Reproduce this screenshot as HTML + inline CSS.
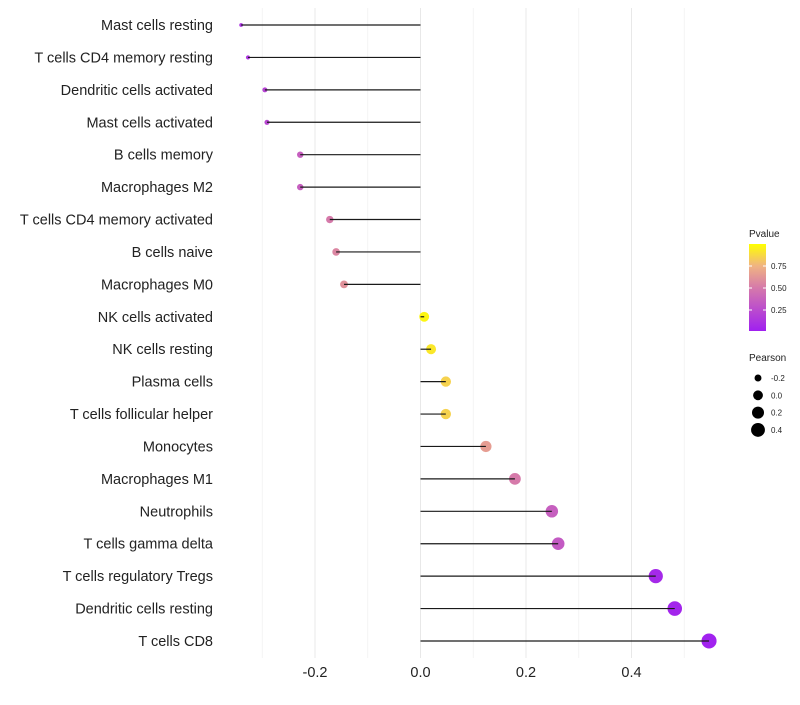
<!DOCTYPE html>
<html><head><meta charset="utf-8"><style>
body{margin:0;background:#fff;font-family:"Liberation Sans",sans-serif}
svg text{font-family:"Liberation Sans",sans-serif}
</style></head><body>
<svg id="c" width="800" height="700"></svg>
<script>
const categories=["Mast cells resting","T cells CD4 memory resting","Dendritic cells activated","Mast cells activated","B cells memory","Macrophages M2","T cells CD4 memory activated","B cells naive","Macrophages M0","NK cells activated","NK cells resting","Plasma cells","T cells follicular helper","Monocytes","Macrophages M1","Neutrophils","T cells gamma delta","T cells regulatory  Tregs ","Dendritic cells resting","T cells CD8"];
const pearson=[-0.340,-0.327,-0.295,-0.291,-0.228,-0.228,-0.172,-0.160,-0.145,0.007,0.020,0.048,0.048,0.124,0.179,0.249,0.261,0.446,0.482,0.547];
const pvalue=[0.10,0.12,0.20,0.22,0.35,0.35,0.50,0.55,0.60,0.97,0.92,0.85,0.85,0.65,0.50,0.35,0.32,0.05,0.03,0.01];
const xTicks=[-0.2,0.0,0.2,0.4];
const xMinor=[-0.3,-0.1,0.1,0.3,0.5];
const pTicks=[0.25,0.50,0.75];
const sizeTicks=[-0.2,0.0,0.2,0.4];
const NS="http://www.w3.org/2000/svg";
const svg=document.getElementById('c');
function el(t,a,p){const e=document.createElementNS(NS,t);for(const k in a)e.setAttribute(k,a[k]);(p||svg).appendChild(e);return e;}
const X=v=>420.5+v*527.5;
const Y=i=>25+i*32.42;
const R=v=>Math.sqrt(Math.max(1,24+60*v));
const stops=[[0,[160,32,240]],[0.5,[214,122,170]],[0.75,[240,180,130]],[1,[255,255,0]]];
function col(p){for(let i=1;i<stops.length;i++){if(p<=stops[i][0]){const a=stops[i-1],b=stops[i];const t=(p-a[0])/(b[0]-a[0]);return 'rgb('+a[1].map((c,j)=>Math.round(c+(b[1][j]-c)*t)).join(',')+')';}}return 'rgb(255,255,0)';}
const grid=el('g',{});
xMinor.forEach(v=>{const l=el('line',{x1:X(v),x2:X(v),y1:8,y2:658,stroke:'#f2f2f2','stroke-width':0.8},grid);});
xTicks.forEach(v=>{const l=el('line',{x1:X(v),x2:X(v),y1:8,y2:658,stroke:'#e8e8e8','stroke-width':1},grid);
const t=el('text',{x:X(v),y:677,'text-anchor':'middle','font-size':14.5,fill:'#222'});t.textContent=v.toFixed(1);});
categories.forEach((c,i)=>{
const t=el('text',{x:213,y:Y(i)+5,'text-anchor':'end','font-size':14.5,fill:'#222'});t.textContent=c;
const d=el('circle',{cx:X(pearson[i]),cy:Y(i),r:R(pearson[i]),fill:col(pvalue[i])});
const l=el('line',{x1:X(0),x2:X(pearson[i]),y1:Y(i),y2:Y(i),stroke:'#1a1a1a','stroke-width':1.2});
});
const lg=el('g',{});
let t=el('text',{x:749,y:237,'font-size':10,fill:'#222'},lg);t.textContent='Pvalue';
const defs=el('defs',{});const g=el('linearGradient',{id:'pg',x1:0,y1:1,x2:0,y2:0},defs);
stops.forEach(s=>el('stop',{offset:s[0],'stop-color':col(s[0])},g));
const bar=el('rect',{x:749,y:244,width:17,height:87,fill:'url(#pg)'},lg);
const PY=p=>332-p*88;
pTicks.forEach(p=>{el('line',{x1:749,x2:752,y1:PY(p),y2:PY(p),stroke:'#fff'},lg);el('line',{x1:763,x2:766,y1:PY(p),y2:PY(p),stroke:'#fff'},lg);
const tt=el('text',{x:771,y:PY(p)+3,'font-size':8,fill:'#222'},lg);tt.textContent=p.toFixed(2);});
t=el('text',{x:749,y:361,'font-size':10,fill:'#222'},lg);t.textContent='Pearson';
sizeTicks.forEach((s,i)=>{const cy=378+i*17.3;const c=el('circle',{cx:758,cy:cy,r:R(s),fill:'#000'},lg);
const tt=el('text',{x:771,y:cy+3,'font-size':8,fill:'#222'},lg);tt.textContent=s.toFixed(1);});
</script>
</body></html>
